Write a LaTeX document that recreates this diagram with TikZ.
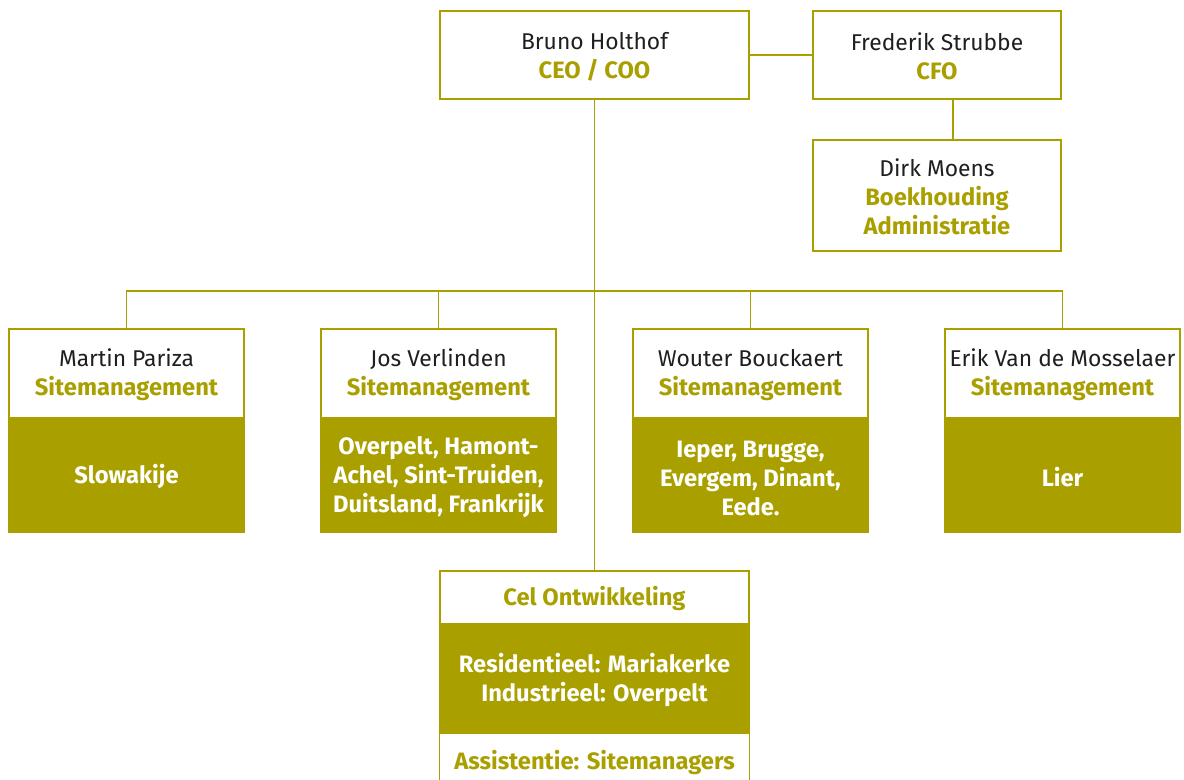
\documentclass[tikz,border=0pt]{standalone}
\usepackage{fontspec}
\setmainfont{Fira Sans}
\usetikzlibrary{positioning,calc}
\definecolor{olijf}{HTML}{A9A000}
\newcommand{\persoonnaam}[1]{{\fontsize{13}{16.5}\selectfont\rule{0pt}{12pt}#1}}
\newcommand{\functie}[1]{\textcolor{olijf}{\bfseries #1}}

\begin{document}
\begin{tikzpicture}[
    x=0.02cm,
    y=-0.02cm,
    every path/.style={line join=miter},
    kader/.style={draw=olijf, line width=0.8pt, fill=white, align=center,
      inner sep=0pt, text=black!88, font=\fontsize{13.5}{16.5}\selectfont},
    vlak/.style={draw=olijf, line width=0.8pt, fill=olijf, align=center,
      inner sep=0pt, text=white, font=\bfseries\fontsize{13.5}{16.5}\selectfont},
    lijn/.style={draw=olijf, line width=0.8pt}
  ]
    \useasboundingbox (0,0) rectangle (1184,780);

    % Top: CEO, CFO and accounting.
    \node[kader, minimum width=6.18cm, minimum height=1.76cm] (ceo) at (594.5,55)
      {\persoonnaam{Bruno Holthof}\\\functie{CEO / COO}};
    \node[kader, minimum width=4.96cm, minimum height=1.76cm] (cfo) at (937,55)
      {\persoonnaam{Frederik Strubbe}\\\functie{CFO}};
    \node[kader, minimum width=4.96cm, minimum height=2.22cm] (dirk) at (937,195.5)
      {\persoonnaam{Dirk Moens}\\\functie{Boekhouding}\\\functie{Administratie}};

    % Four site managers, each with its region below.
    \foreach \naam/\cx/\persoon/\regio in {
        pariza/126.5/{Martin Pariza}/{Slowakije},
        verlinden/438.5/{Jos Verlinden}/{Overpelt, Hamont-\\Achel, Sint-Truiden,\\Duitsland, Frankrijk},
        bouckaert/750.5/{Wouter Bouckaert}/{Ieper, Brugge,\\Evergem, Dinant,\\Eede.},
        mosselaer/1062.5/{Erik Van de Mosselaer}/{Lier}}{%
      \node[kader, minimum width=4.7cm, minimum height=1.78cm] (\naam) at (\cx,373.5)
        {\persoonnaam{\persoon}\\\functie{Sitemanagement}};
      \node[vlak, minimum width=4.7cm, minimum height=2.26cm, below=0pt of \naam]
        (\naam-regio) {\rule{0pt}{12pt}\regio};
    }

    % Development cell at the bottom.
    \node[kader, minimum width=6.18cm, minimum height=1.06cm] (cel) at (594.5,597.5)
      {\rule{0pt}{12pt}\functie{Cel Ontwikkeling}};
    \node[vlak, minimum width=6.18cm, minimum height=2.16cm, below=0pt of cel]
      (cel-regio) {\rule{0pt}{12pt}Residentieel: Mariakerke\\Industrieel: Overpelt};
    \node[kader, draw=none, minimum width=6.18cm, minimum height=1.12cm,
      below=0pt of cel-regio] (assist) {\functie{Assistentie: Sitemanagers}};
    \draw[lijn] (assist.north west) -- (assist.north west |- 0,780);
    \draw[lijn] (assist.north east) -- (assist.north east |- 0,780);

    % Connectors.
    \coordinate (bus) at (594,291);
    \draw[lijn] (ceo) -- (cfo);
    \draw[lijn] ($(cfo.south)+(16,0)$) -- ($(dirk.north)+(16,0)$);
    \draw[lijn] (ceo.south) -- (cel.north);
    \draw[lijn] (pariza.north) |- (bus) -| (mosselaer.north);
    \draw[lijn] (verlinden.north) -- (verlinden.north |- bus);
    \draw[lijn] (bouckaert.north) -- (bouckaert.north |- bus);
\end{tikzpicture}
\end{document}
